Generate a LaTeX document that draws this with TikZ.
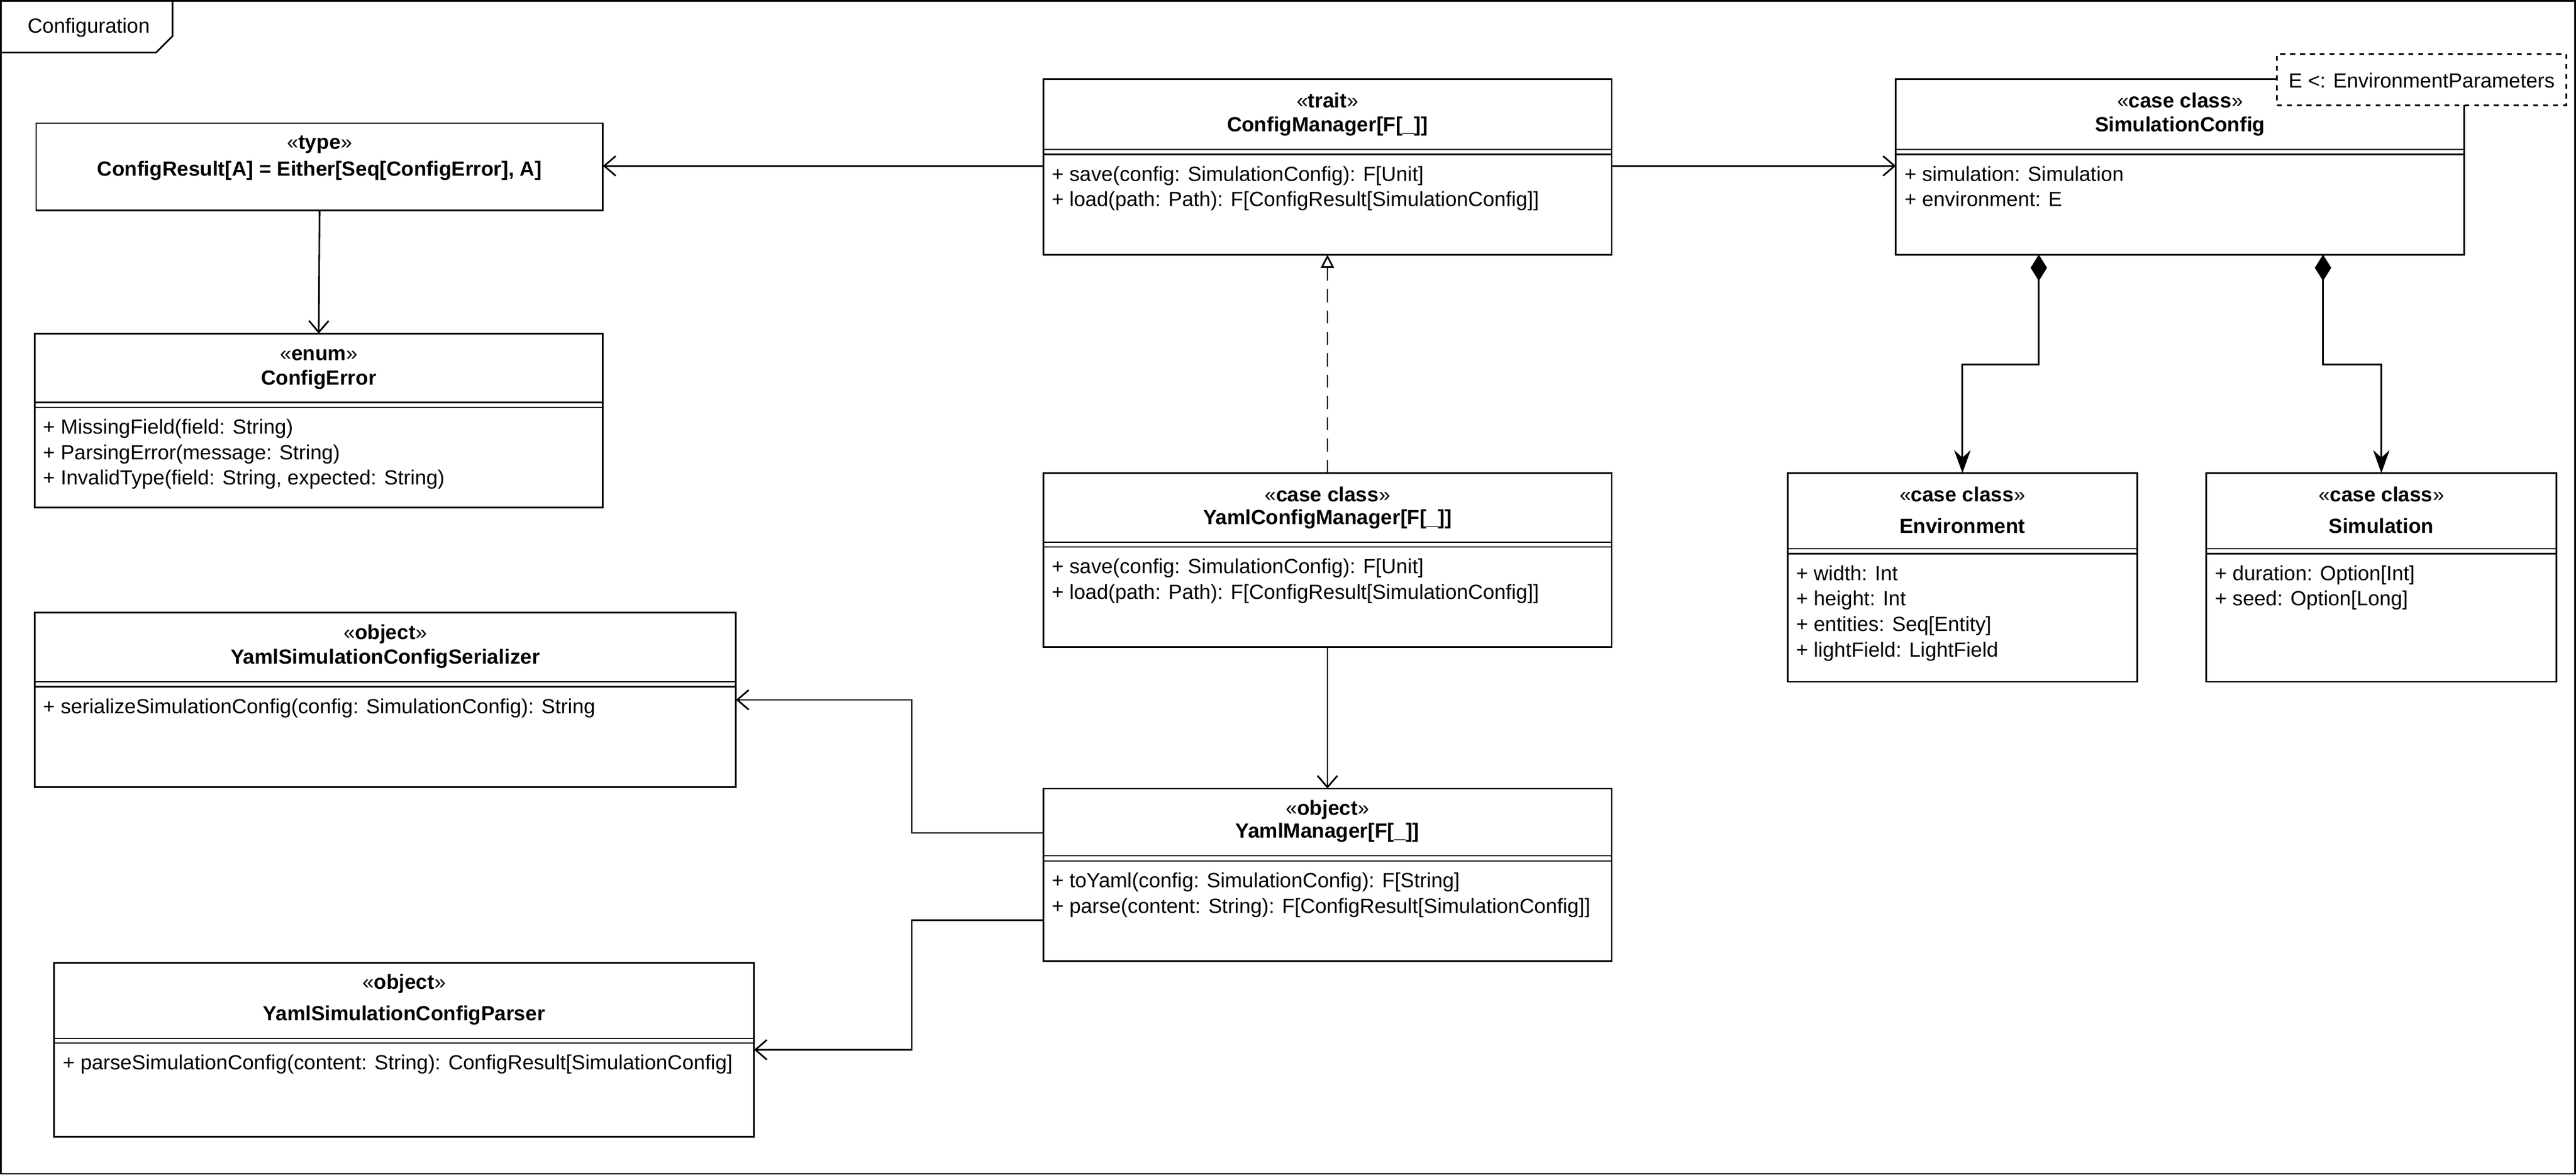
\documentclass[tikz,border=0pt]{standalone}
\usepackage{fontspec}
\setmainfont{Liberation Sans}
\usetikzlibrary{arrows.meta,calc}
\tikzset{
  box/.style={draw,line width=1pt,inner sep=0,outer sep=0,anchor=north west,fill=white},
  conn/.style={line width=1pt},
  open/.style={-{Straight Barb[length=7pt,width=12pt,line width=1pt]}},
  txt/.style={inner sep=0,font=\fontsize{12.5}{15.5}\selectfont},
}
\newcommand\umlbox[9]{%
  \node[box,minimum width={(#4-#2)*1pt},minimum height={(#5-#3)*1pt}] (#1) at (#2,#3) {};
  \draw[line width=0.8pt] (#2,#6) -- (#4,#6) (#2,#6+3) -- (#4,#6+3);
  \node[txt] at ({(#2+#4)/2},#3+13) {<<\textbf{#7}>>};
  \node[txt,font=\fontsize{12.5}{15}\selectfont\bfseries] at ({(#2+#4)/2},#6-14) {#8};
  \node[txt,anchor=north west,align=left] at (#2+5,#6+10) {#9};
}
\begin{document}
\begin{tikzpicture}[x=1pt,y=-1pt]
\useasboundingbox (0,0) rectangle (1568,715);
\draw[line width=1pt] (0.5,0.5) rectangle (1567.5,714.5);
\draw[line width=1pt] (0.5,32) -- (95,32) -- (105,22) -- (105,0.5);
\node[txt] (lbl) at (54,17) {Configuration};

\node[box,minimum width=345pt,minimum height=53pt] (cr) at (22,75) {};
\node[txt] at (194.5,88) {<<\textbf{type}>>};
\node[txt,font=\fontsize{12.5}{15}\selectfont\bfseries] at (194.5,104) {ConfigResult[A] = Either[Seq[ConfigError], A]};

\umlbox{ce}{21}{203}{367}{309}{245}{enum}{ConfigError}{+ MissingField(field: String)\\+ ParsingError(message: String)\\+ InvalidType(field: String, expected: String)}
\umlbox{cm}{635}{48}{981}{155}{91}{trait}{ConfigManager[F[\_]]}{+ save(config: SimulationConfig): F[Unit]\\+ load(path: Path): F[ConfigResult[SimulationConfig]]}
\umlbox{sc}{1154}{48}{1500}{155}{91}{case class}{SimulationConfig}{+ simulation: Simulation\\+ environment: E}
\node[box,dashed,minimum width=176pt,minimum height=31pt] (tp) at (1386,33) {};
\node[txt] at (1474,49) {E <: EnvironmentParameters};
\umlbox{ycm}{635}{288}{981}{394}{330}{case class}{YamlConfigManager[F[\_]]}{+ save(config: SimulationConfig): F[Unit]\\+ load(path: Path): F[ConfigResult[SimulationConfig]]}
\umlbox{env}{1088}{288}{1301}{415}{334}{case class}{Environment}{+ width: Int\\+ height: Int\\+ entities: Seq[Entity]\\+ lightField: LightField}
\umlbox{sim}{1343}{288}{1556}{415}{334}{case class}{Simulation}{+ duration: Option[Int]\\+ seed: Option[Long]}
\umlbox{ser}{21}{373}{448}{479}{415}{object}{YamlSimulationConfigSerializer}{+ serializeSimulationConfig(config: SimulationConfig): String}
\umlbox{ym}{635}{480}{981}{585}{521}{object}{YamlManager[F[\_]]}{+ toYaml(config: SimulationConfig): F[String]\\+ parse(content: String): F[ConfigResult[SimulationConfig]]}
\umlbox{par}{33}{586}{459}{692}{632}{object}{YamlSimulationConfigParser}{+ parseSimulationConfig(content: String): ConfigResult[SimulationConfig]}

\draw[conn,open] (cm.west |- 0,101) -- (cr.east |- 0,101);
\draw[conn,open] (cr.south) -- (ce.north);
\draw[conn,open] (cm.east |- 0,101) -- (sc.west |- 0,101);
\draw[conn,dashed,dash pattern=on 8pt off 5pt,-{Triangle[open,length=8pt,width=8pt,line width=1pt]}] (ycm.north) -- (cm.south);
\draw[conn,open] (ycm.south) -- (ym.north);
\draw[conn,open] ([yshift=25.5pt]ym.west) -- ++(-80,0) |- (ser.east);
\draw[conn,open] ([yshift=-27.5pt]ym.west) -- ++(-80,0) |- (par.east);
\draw[conn,{Diamond[length=16pt,width=10pt]}-{Stealth[length=14pt,width=10pt]}] ([xshift=-86pt]sc.south) -- ++(0,67) -| (env.north);
\draw[conn,{Diamond[length=16pt,width=10pt]}-{Stealth[length=14pt,width=10pt]}] ([xshift=87pt]sc.south) -- ++(0,67) -| (sim.north);
\end{tikzpicture}
\end{document}
